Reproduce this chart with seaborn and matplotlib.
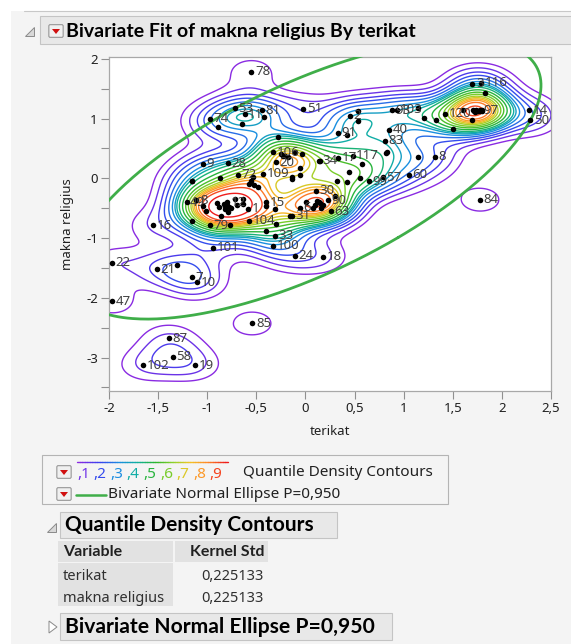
import numpy as np
import matplotlib
matplotlib.use("Agg")
import matplotlib.pyplot as plt
import seaborn as sns
from matplotlib.patches import Rectangle, Polygon, FancyBboxPatch
from matplotlib.lines import Line2D
from matplotlib.colors import LinearSegmentedColormap
from matplotlib.ticker import FuncFormatter, MultipleLocator

# ---------------- data ----------------
terikat = [
    -0.55, -0.97, -0.89, -0.72, -0.62, -0.65, -0.44, -0.42, -0.02,
    -0.28, -0.79, -0.33, -0.21, -0.11, -0.03, 0.14, -0.30, -0.06, -0.14, -0.14, -0.06, -0.23, 0.33, 0.42, -0.43,
    -0.25, -0.18,
    -1.04, -1.16, -1.15, -0.87, -0.69, -0.53, -0.48, -0.57, -1.21, -1.11, -1.04, -1.01, -0.80, -0.82, -0.79,
    -0.86, -0.64, -0.58, -0.72, -0.40, -0.31, -0.14, -0.30, -0.57, -0.77, -0.97, -1.15, -0.40, -0.31, -0.94,
    -0.33, -0.64, -0.40, -0.55, -0.52, -0.88, -0.80, -0.78, -0.83, -0.82, -0.76, -0.90, -0.70,
    -1.55, -0.11, 0.18, -1.97, -1.51, -1.31, -1.10, -1.16, -1.97, -0.54, -1.39, -1.35, -1.65, -1.12,
    0.11, 0.23, 0.01, 0.08, 0.30, -0.06, 0.16, -0.16, 0.26, 0.15, 0.12, 0.18, 0.14, 0.10,
    0.15, 0.33, 0.48, 0.58, 0.82, 1.15, 1.32, 1.05, 0.44, 0.32, 0.42, 0.56, 0.65, 0.79, 0.45, 0.54, 0.54,
    0.88, 0.93, 1.15, 1.21, 1.33, 1.42, 1.50, 0.85, 0.81, 0.83,
    1.60, 1.71, 1.78, 1.80, 1.83, 1.79, 1.70, 1.70, 1.75, 1.72, 1.78, 1.74, 1.76, 1.73, 1.80,
    2.28, 2.29, 1.78,
]
makna_religius = [
    1.78, 1.00, 0.86, 1.17, 1.07, 0.91, 1.14, 1.02, 1.16,
    0.69, 0.25, 0.44, 0.38, 0.44, 0.41, 0.29, 0.27, 0.18, -0.01, 0.02, 0.06, 0.38, 0.76, 0.73, 0.08,
    0.40, 0.36,
    0.24, -0.04, -0.05, 0.01, 0.06, 0.02, -0.15, -0.09, -0.40, -0.37, -0.46, -0.54, -0.40, -0.51, -0.57,
    -0.63, -0.43, -0.51, -0.35, -0.40, -0.51, -0.63, -0.77, -0.71, -0.79, -0.79, -0.71, -0.88, -0.96, -1.16,
    -1.13, -0.35, -0.46, -0.04, -0.12, -0.48, -0.45, -0.48, -0.43, -0.46, -0.50, -0.42, -0.45,
    -0.79, -1.30, -1.31, -1.41, -1.52, -1.45, -1.74, -1.66, -2.06, -2.43, -2.68, -2.99, -3.13, -3.13,
    -0.21, -0.37, -0.40, -0.49, -0.29, -0.49, -0.49, -0.63, -0.55, -0.42, -0.38, -0.45, -0.40, -0.44,
    0.29, 0.34, 0.38, 0.24, 0.42, 0.35, 0.36, 0.06, 0.10, -0.04, -0.07, 0.01, -0.05, 0.02, 1.05, 1.12, 0.96,
    1.14, 1.15, 1.18, 1.01, 0.97, 1.08, 0.83, 0.81, 0.63, 0.44,
    1.14, 1.14, 1.14, 1.12, 1.42, 1.60, 1.58, 0.98, 1.12, 1.13, 1.12, 1.14, 1.13, 1.11, 1.14,
    1.14, 0.97, -0.36,
]
row_labels = [
    "78", "74", "", "53", "11", "", "81", "", "51",
    "", "28", "106", "", "", "", "34", "20", "", "", "", "", "", "91", "", "109",
    "", "",
    "9", "", "", "", "72", "", "", "", "49", "8", "", "", "12", "", "",
    "", "", "1", "", "15", "", "31", "", "104", "", "79", "", "", "33", "101",
    "100", "", "", "", "", "", "", "", "", "", "", "", "",
    "16", "24", "18", "22", "21", "", "10", "7", "47", "85", "87", "58", "102", "19",
    "30", "90", "", "", "", "6", "", "", "63", "", "", "", "", "",
    "", "17", "117", "", "", "", "8", "60", "", "", "", "", "99", "57", "2", "", "",
    "93", "103", "", "", "", "120", "", "40", "83", "",
    "", "", "97", "", "", "116", "3", "", "", "", "", "", "", "", "",
    "14", "50", "84",
]
x_ticks = [-2, -1.5, -1, -0.5, 0, 0.5, 1, 1.5, 2, 2.5]
y_ticks = [-3, -2, -1, 0, 1, 2]
contour_quantiles = [0.05, 0.1, 0.15, 0.2, 0.25, 0.3, 0.35, 0.4, 0.45, 0.5,
                     0.55, 0.6, 0.65, 0.7, 0.75, 0.8, 0.85, 0.9, 0.95]
kernel_std = 0.225133
ellipse_p = 0.950
legend_digits = ["1", "2", "3", "4", "5", "6", "7", "8", "9"]

# ---------------- figure ----------------
W, H = 571, 644
BG = "#f4f4f4"
sns.set_style("ticks")
plt.rcParams["font.family"] = ["Noto Sans", "DejaVu Sans"]
BOLD = ["Lato", "DejaVu Sans"]
fig = plt.figure(figsize=(W / 100, H / 100), dpi=100, facecolor=BG)

cmap = LinearSegmentedColormap.from_list("jmp", [
    (0.0, "#8a2be2"), (0.14, "#3a3ff0"), (0.28, "#1a90e0"), (0.40, "#10b0a0"),
    (0.52, "#2cb52c"), (0.64, "#8fd32a"), (0.75, "#f2c526"), (0.87, "#ff8a2a"), (1.0, "#ee1c1c")])

def fx(px):
    return px / W

def fy(py):
    return 1 - py / H

def frect(x0, y0, x1, y1, **kw):
    r = Rectangle((fx(x0), fy(y1)), fx(x1) - fx(x0), fy(y0) - fy(y1),
                  transform=fig.transFigure, **kw)
    fig.add_artist(r)
    return r

frect(0, 0, 11, H, facecolor="white", edgecolor="none")
frect(0, 0, W, 11, facecolor="white", edgecolor="none")
fig.add_artist(Line2D([fx(24), fx(W)], [fy(11), fy(11)], color="#c8c8c8", lw=0.8))

def dropdown(px, py):
    b = FancyBboxPatch((fx(px - 6), fy(py + 5)), fx(12), fy(0) - fy(10),
                       boxstyle="round,pad=0.002", transform=fig.transFigure,
                       facecolor="#f0f0f0", edgecolor="#8a8a8a", lw=0.7)
    fig.add_artist(b)
    tri = Polygon([(fx(px - 4), fy(py - 2)), (fx(px + 4), fy(py - 2)), (fx(px), fy(py + 3))],
                  closed=True, transform=fig.transFigure, facecolor="#d01010", edgecolor="none")
    fig.add_artist(tri)

def open_tri(px, py):
    t = Polygon([(fx(px - 5), fy(py + 5)), (fx(px + 4), fy(py + 5)), (fx(px + 4), fy(py - 4))],
                closed=True, transform=fig.transFigure, facecolor="#d8d8d8", edgecolor="#8a8a8a", lw=0.7)
    fig.add_artist(t)

def closed_tri(px, py):
    t = Polygon([(fx(px - 4), fy(py - 6)), (fx(px - 4), fy(py + 6)), (fx(px + 4), fy(py))],
                closed=True, transform=fig.transFigure, facecolor="white", edgecolor="#8a8a8a", lw=0.7)
    fig.add_artist(t)

frect(40, 16, W + 2, 44, facecolor="#e8e8e8", edgecolor="#c4c4c4", lw=0.8)
open_tri(30, 31)
dropdown(56, 31)
fig.text(fx(66), fy(31), "Bivariate Fit of makna religius By terikat", fontsize=14,
         fontweight="bold", family=BOLD, va="center", ha="left", color="black")

# ---------------- main axes ----------------
ax = fig.add_axes([fx(109), fy(391), fx(551) - fx(109), fy(57) - fy(391)])
ax.set_facecolor("white")

# kernel density with isotropic kernel (Kernel Std from the report)
xs = np.asarray(terikat)
ys = np.asarray(makna_religius)
gx = np.linspace(-2.8, 3.2, 320)
gy = np.linspace(-4.3, 2.8, 360)
GX, GY = np.meshgrid(gx, gy)
dens = np.zeros_like(GX)
for xv, yv in zip(xs, ys):
    dens += np.exp(-((GX - xv) ** 2 + (GY - yv) ** 2) / (2 * kernel_std ** 2))
dens /= len(xs) * 2 * np.pi * kernel_std ** 2
flat = np.sort(dens.ravel())
cmass = np.cumsum(flat)
cmass /= cmass[-1]
levels = [flat[np.searchsorted(cmass, q)] for q in contour_quantiles]
ax.contour(GX, GY, dens, levels=levels,
           colors=[cmap(i / (len(levels) - 1)) for i in range(len(levels))],
           linewidths=1.0, zorder=2)

# bivariate normal ellipse from data
xy = np.column_stack([xs, ys])
mu = xy.mean(axis=0)
cov = np.cov(xy, rowvar=False)
r2 = -2 * np.log(1 - ellipse_p)
evals, evecs = np.linalg.eigh(cov)
t = np.linspace(0, 2 * np.pi, 400)
circ = np.vstack([np.cos(t), np.sin(t)])
ell = (evecs @ (np.sqrt(evals * r2)[:, None] * circ)).T + mu
ax.plot(ell[:, 0], ell[:, 1], color="#3fae49", lw=2.0, zorder=3)

sns.scatterplot(x=terikat, y=makna_religius, color="black", s=16, linewidth=0, ax=ax, zorder=5)
for xv, yv, lab in zip(terikat, makna_religius, row_labels):
    if lab:
        ax.annotate(lab, (xv, yv), xytext=(2.5, 0), textcoords="offset points",
                    va="center", ha="left", fontsize=9.5, color="#404040",
                    zorder=6, annotation_clip=True, clip_on=True)

ax.set_xlim(-2, 2.5)
ax.set_ylim(-3.56, 2.03)
ax.set_xticks(x_ticks)
ax.set_yticks(y_ticks)
ax.yaxis.set_minor_locator(MultipleLocator(0.5))
fmt = FuncFormatter(lambda v, p: ("%g" % v).replace(".", ","))
ax.xaxis.set_major_formatter(fmt)
ax.yaxis.set_major_formatter(fmt)
for sp in ax.spines.values():
    sp.set_visible(True)
    sp.set_color("#a8a8a8")
    sp.set_linewidth(0.9)
ax.tick_params(which="both", direction="out", length=6, width=0.8, color="#909090",
               labelsize=9.5, labelcolor="#202020", pad=2)
ax.set_xlabel("terikat", fontsize=9.5, color="#202020", labelpad=7)
ax.set_ylabel("makna religius", fontsize=9.5, color="#202020", labelpad=9)

# ---------------- legend box ----------------
frect(42, 455, 448, 504, facecolor=BG, edgecolor="#b4b4b4", lw=0.8)
dropdown(64, 472)
dropdown(64, 494)
n_seg = 60
x0, x1 = 77, 228
for i in range(n_seg):
    a = x0 + (x1 - x0) * i / n_seg
    b = x0 + (x1 - x0) * (i + 1) / n_seg
    fig.add_artist(Line2D([fx(a), fx(b)], [fy(461.5), fy(461.5)], color=cmap(i / (n_seg - 1)), lw=1.0))
for i, d in enumerate(legend_digits):
    fig.text(fx(77 + i * 16.6), fy(474), "," + d, color=cmap(0.05 + 0.9 * i / (len(legend_digits) - 1)),
             fontsize=11, va="center", ha="left")
fig.text(fx(243), fy(473), "Quantile Density Contours", fontsize=11, va="center", ha="left", color="#202020")
fig.add_artist(Line2D([fx(76), fx(106)], [fy(495), fy(495)], color="#3fae49", lw=1.8))
fig.text(fx(108), fy(495), "Bivariate Normal Ellipse P=0,950", fontsize=11, va="center", ha="left", color="#202020")

# ---------------- Quantile Density Contours report ----------------
open_tri(52, 527)
frect(60, 512, 337, 538, facecolor="#e8e8e8", edgecolor="#c4c4c4", lw=0.8)
fig.text(fx(65), fy(525), "Quantile Density Contours", fontsize=15, fontweight="bold", family=BOLD,
         va="center", ha="left", color="black")
frect(58, 541, 173, 562, facecolor="#e2e2e2", edgecolor="none")
frect(175, 541, 268, 562, facecolor="#e2e2e2", edgecolor="none")
frect(58, 563, 173, 606, facecolor="#e2e2e2", edgecolor="none")
fig.text(fx(63), fy(552), "Variable", fontsize=11.5, fontweight="bold", family=BOLD,
         va="center", ha="left", color="#202020")
fig.text(fx(265), fy(552), "Kernel Std", fontsize=11.5, fontweight="bold", family=BOLD,
         va="center", ha="right", color="#202020")
table_vars = ["terikat", "makna religius"]
for i, name in enumerate(table_vars):
    yy = 577 + i * 21
    fig.text(fx(63), fy(yy), name, fontsize=10.5, va="center", ha="left", color="#303030")
    fig.text(fx(264), fy(yy), ("%.6f" % kernel_std).replace(".", ","), fontsize=10.5,
             va="center", ha="right", color="#303030")

# ---------------- Bivariate Normal Ellipse report ----------------
closed_tri(53, 627)
frect(60, 613, 392, 640, facecolor="#e8e8e8", edgecolor="#c4c4c4", lw=0.8)
fig.text(fx(65), fy(627), "Bivariate Normal Ellipse P=0,950", fontsize=15.2, fontweight="bold", family=BOLD,
         va="center", ha="left", color="black")

fig.savefig("out.png", dpi=100, facecolor=fig.get_facecolor())
